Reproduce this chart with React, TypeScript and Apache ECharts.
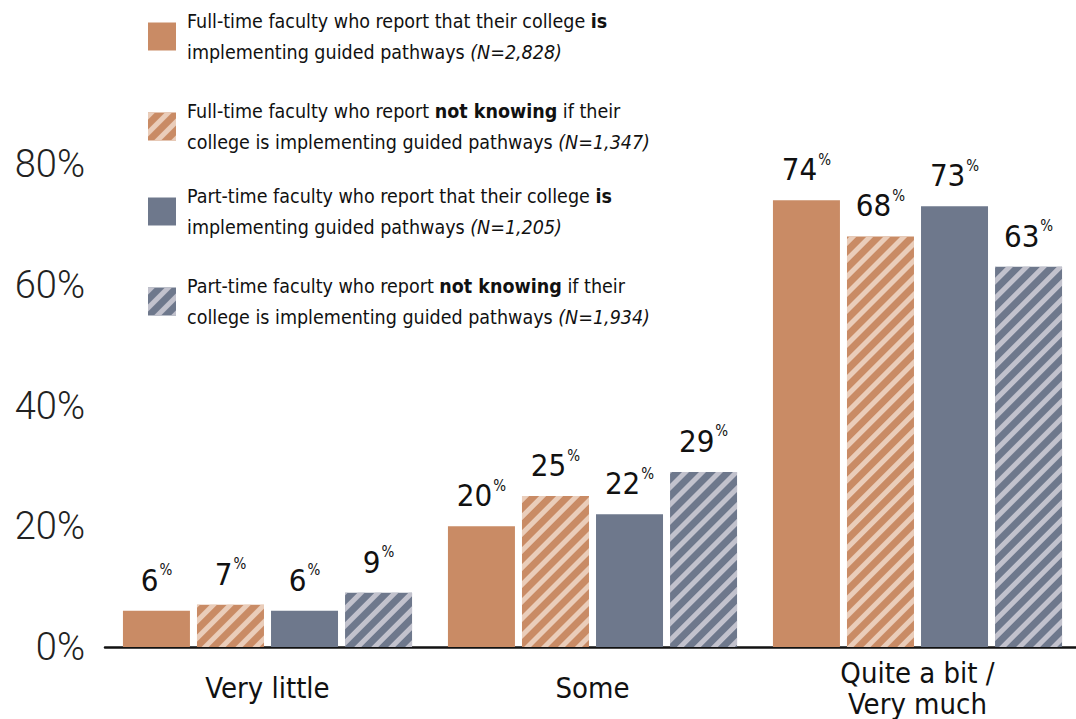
import React, { useEffect, useRef } from "react";
import * as echarts from "echarts";

const categories = ["Very little", "Some", "Quite a bit /\nVery much"];
const ftIs = [6, 20, 74];
const ftNotKnowing = [7, 25, 68];
const ptIs = [6, 22, 73];
const ptNotKnowing = [9, 29, 63];
const yTicks = [0, 20, 40, 60, 80];

const seriesNames = [
  "Full-time faculty who report that their college is implementing guided pathways (N=2,828)",
  "Full-time faculty who report not knowing if their college is implementing guided pathways (N=1,347)",
  "Part-time faculty who report that their college is implementing guided pathways (N=1,205)",
  "Part-time faculty who report not knowing if their college is implementing guided pathways (N=1,934)",
];
const legendRich = [
  "{n|Full-time faculty who report that their college }{b|is}\n{n|implementing guided pathways }{i|(N=2,828)}",
  "{n|Full-time faculty who report }{b|not knowing}{n| if their}\n{n|college is implementing guided pathways }{i|(N=1,347)}",
  "{n|Part-time faculty who report that their college }{b|is}\n{n|implementing guided pathways }{i|(N=1,205)}",
  "{n|Part-time faculty who report }{b|not knowing}{n| if their}\n{n|college is implementing guided pathways }{i|(N=1,934)}",
];
const legendTops = [6, 96, 181, 271];

const ORANGE = "#C98B65";
const ORANGE_LIGHT = "#EACDBA";
const SLATE = "#6E788C";
const SLATE_LIGHT = "#C2C2CD";

const FONT = "'Liberation Sans Narrow', 'DejaVu Sans Condensed', 'Liberation Sans', sans-serif";

export default function App() {
  const ref = useRef<HTMLDivElement>(null);
  useEffect(() => {
    if (!ref.current) return;
    const chart = echarts.init(ref.current, undefined, { renderer: "svg" });
    const stripe = (c: string) => ({
      symbol: "rect",
      symbolSize: 1,
      color: c,
      dashArrayX: [1, 0],
      dashArrayY: [5, 7],
      rotation: -Math.PI / 4,
    });
    const datasets = [ftIs, ftNotKnowing, ptIs, ptNotKnowing];
    const colors = [ORANGE, ORANGE, SLATE, SLATE];
    const decals = [null, stripe(ORANGE_LIGHT), null, stripe(SLATE_LIGHT)];
    const series = datasets.map((d, i) => ({
      type: "bar",
      name: seriesNames[i],
      data: d,
      barWidth: 67,
      barGap: "10.5%",
      itemStyle: decals[i] ? { color: colors[i], decal: decals[i] } : { color: colors[i] },
      label: {
        show: true,
        position: "top",
        distance: 14,
        formatter: (p: any) => `{a|${p.value}}{p|%}`,
        rich: {
          a: { fontSize: 31, fontFamily: FONT, color: "#111", lineHeight: 34 },
          p: { fontSize: 15, fontFamily: FONT, color: "#111", verticalAlign: "top", lineHeight: 34, padding: [0, 0, 10, 1] },
        },
      },
    }));
    const legends = seriesNames.map((n, i) => ({
      data: [n],
      left: 143,
      top: legendTops[i],
      orient: "vertical",
      icon: "rect",
      itemWidth: 28,
      itemHeight: 28,
      selectedMode: false,
      formatter: () => legendRich[i],
      textStyle: {
        padding: [0, 0, 0, 6],
        rich: {
          n: { fontSize: 19.5, fontFamily: FONT, color: "#111", lineHeight: 31 },
          b: { fontSize: 19.5, fontFamily: FONT, color: "#111", fontWeight: "bold", lineHeight: 31 },
          i: { fontSize: 19.5, fontFamily: FONT, color: "#111", fontStyle: "italic", lineHeight: 31 },
        },
      },
    }));
    chart.setOption({
      animation: false,
      backgroundColor: "#fff",
      legend: legends,
      grid: { left: 105, right: -4, top: 164, bottom: 72, containLabel: false, outerBoundsMode: "none" },
      xAxis: {
        type: "category",
        data: categories,
        axisLine: { show: true, lineStyle: { color: "#111", width: 2.5 } },
        axisTick: { show: false },
        axisLabel: { fontSize: 29, fontFamily: FONT, color: "#111", margin: 41, lineHeight: 31, verticalAlign: "middle" },
      },
      yAxis: {
        type: "value",
        min: yTicks[0],
        max: yTicks[yTicks.length - 1],
        interval: 20,
        splitLine: { show: false },
        axisLine: { show: false },
        axisTick: { show: false },
        axisLabel: {
          formatter: (v: number) => `${v}%`,
          fontSize: 38,
          fontFamily: "Roboto, 'Liberation Sans', sans-serif",
          fontWeight: 300,
          color: "#222",
          margin: 20,
        },
      },
      series,
    });
    return () => chart.dispose();
  }, []);
  return (
    <div
      ref={ref}
      style={{ position: "fixed", left: 0, top: 0, width: 1076, height: 719, background: "#fff" }}
    />
  );
}
